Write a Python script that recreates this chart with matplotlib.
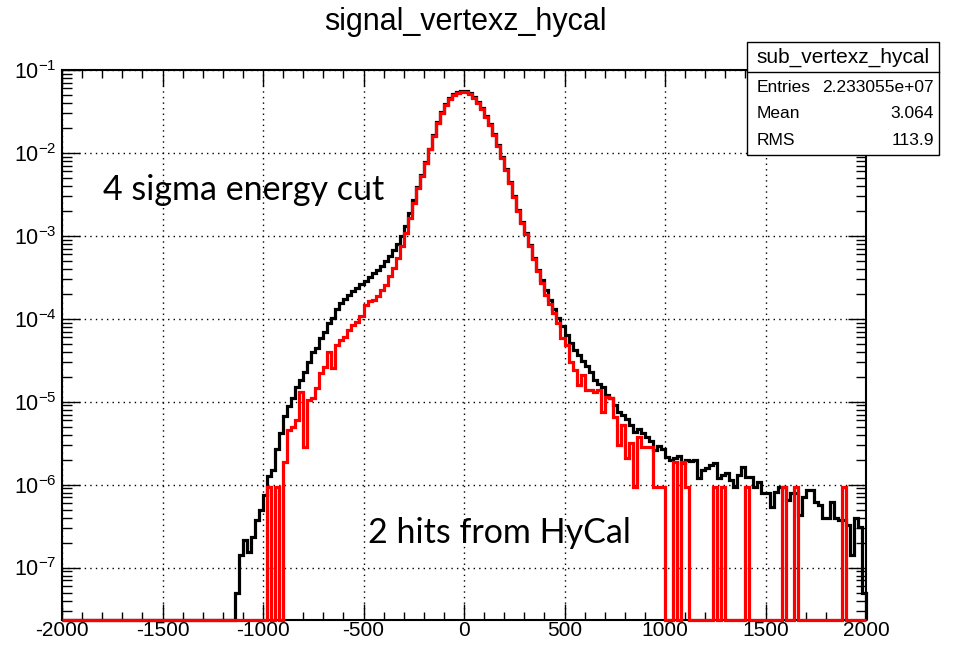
import matplotlib
matplotlib.use("Agg")
import matplotlib.pyplot as plt
import numpy as np
from matplotlib.patches import Rectangle
from matplotlib.lines import Line2D
from matplotlib.ticker import LogLocator, MultipleLocator, NullFormatter

plt.rcParams['font.family'] = 'Liberation Sans'
plt.rcParams['mathtext.fontset'] = 'custom'
plt.rcParams['mathtext.rm'] = 'Liberation Sans'
plt.rcParams['mathtext.it'] = 'Liberation Sans:italic'
plt.rcParams['axes.unicode_minus'] = False

# 200 bins of 20 from -2000 to 2000
bin_edges = np.arange(-2000, 2001, 20)

# all hits, 4 sigma energy cut (black)
black_counts = [
    0, 0, 0, 0, 0, 0, 0, 0, 0, 0,
    0, 0, 0, 0, 0, 0, 0, 0, 0, 0,
    0, 0, 0, 0, 0, 0, 0, 0, 0, 0,
    0, 0, 0, 0, 0, 0, 0, 0, 0, 0,
    0, 0, 0, 4.9e-8, 1.42e-7, 2.14e-7, 1.54e-7, 2.33e-7, 3.73e-7, 4.93e-7,
    7.47e-7, 1.26e-6, 1.50e-6, 2.68e-6, 4.17e-6, 6.68e-6, 8.83e-6, 1.10e-5, 1.50e-5, 1.82e-5,
    2.27e-5, 2.99e-5, 3.94e-5, 4.41e-5, 5.82e-5, 6.87e-5, 8.83e-5, 1.01e-4, 1.30e-4, 1.54e-4,
    1.72e-4, 1.92e-4, 2.14e-4, 2.33e-4, 2.61e-4, 2.83e-4, 3.16e-4, 3.53e-4, 3.84e-4, 4.29e-4,
    4.93e-4, 5.66e-4, 6.68e-4, 7.90e-4, 9.86e-4, 1.30e-3, 1.87e-3, 2.68e-3, 3.84e-3, 5.36e-3,
    7.69e-3, 1.13e-2, 1.63e-2, 2.33e-2, 3.08e-2, 3.84e-2, 4.54e-2, 5.07e-2, 5.36e-2, 5.51e-2,
    5.51e-2, 5.21e-2, 4.67e-2, 4.06e-2, 3.44e-2, 2.75e-2, 2.21e-2, 1.67e-2, 1.23e-2, 8.83e-3,
    6.33e-3, 4.41e-3, 2.99e-3, 2.03e-3, 1.46e-3, 1.07e-3, 7.69e-4, 5.36e-4, 3.84e-4, 2.91e-4,
    2.20e-4, 1.67e-4, 1.30e-4, 1.01e-4, 8.13e-5, 6.33e-5, 5.07e-5, 4.17e-5, 3.63e-5, 3.08e-5,
    2.68e-5, 2.27e-5, 1.82e-5, 1.63e-5, 1.50e-5, 1.20e-5, 1.10e-5, 9.08e-6, 7.47e-6, 6.87e-6,
    6.15e-6, 5.21e-6, 4.29e-6, 4.67e-6, 4.17e-6, 3.73e-6, 3.34e-6, 2.61e-6, 2.91e-6, 2.68e-6,
    2.14e-6, 1.97e-6, 2.07e-6, 2.20e-6, 1.82e-6, 1.97e-6, 1.92e-6, 1.97e-6, 1.20e-6, 1.50e-6,
    1.58e-6, 1.72e-6, 1.82e-6, 1.20e-6, 1.30e-6, 1.37e-6, 1.13e-6, 9.33e-7, 1.30e-6, 1.63e-6,
    1.23e-6, 1.23e-6, 9.33e-7, 1.07e-6, 7.90e-7, 7.90e-7, 5.36e-7, 8.10e-7, 9.33e-7, 9.33e-7,
    6.50e-7, 7.90e-7, 7.90e-7, 4.29e-7, 7.07e-7, 8.59e-7, 8.59e-7, 6.15e-7, 5.66e-7, 3.94e-7,
    3.94e-7, 6.15e-7, 3.94e-7, 3.73e-7, 3.73e-7, 3.25e-7, 1.42e-7, 4.00e-7, 3.10e-7, 4.9e-8,
]

# 2 hits from HyCal (red)
red_counts = [
    0, 0, 0, 0, 0, 0, 0, 0, 0, 0,
    0, 0, 0, 0, 0, 0, 0, 0, 0, 0,
    0, 0, 0, 0, 0, 0, 0, 0, 0, 0,
    0, 0, 0, 0, 0, 0, 0, 0, 0, 0,
    0, 0, 0, 0, 0, 0, 0, 0, 0, 0,
    0, 9.3e-7, 0, 9.3e-7, 0, 1.87e-6, 4.54e-6, 4.93e-6, 5.98e-6, 1.30e-5,
    2.83e-6, 1.04e-5, 1.10e-5, 1.46e-5, 2.20e-5, 2.61e-5, 3.94e-5, 2.53e-5, 4.80e-5, 5.51e-5,
    5.98e-5, 7.26e-5, 8.35e-5, 9.08e-5, 1.07e-4, 1.46e-4, 1.63e-4, 1.67e-4, 1.87e-4, 2.20e-4,
    2.53e-4, 3.25e-4, 4.06e-4, 5.36e-4, 7.47e-4, 1.07e-3, 1.63e-3, 2.47e-3, 3.74e-3, 5.20e-3,
    7.50e-3, 1.10e-2, 1.59e-2, 2.27e-2, 3.00e-2, 3.74e-2, 4.42e-2, 4.94e-2, 5.22e-2, 5.38e-2,
    5.38e-2, 5.08e-2, 4.55e-2, 3.95e-2, 3.35e-2, 2.68e-2, 2.15e-2, 1.63e-2, 1.20e-2, 8.60e-3,
    6.16e-3, 4.29e-3, 2.91e-3, 1.98e-3, 1.42e-3, 1.04e-3, 7.48e-4, 5.22e-4, 3.74e-4, 2.68e-4,
    1.92e-4, 1.50e-4, 1.16e-4, 8.83e-5, 5.82e-5, 4.80e-5, 2.99e-5, 2.40e-5, 1.58e-5, 2.08e-5,
    1.38e-5, 1.38e-5, 1.30e-5, 1.38e-5, 7.47e-6, 1.13e-5, 1.10e-5, 6.50e-6, 2.99e-6, 5.21e-6,
    2.08e-6, 3.16e-6, 9.3e-7, 3.73e-6, 2.83e-6, 2.83e-6, 2.83e-6, 9.3e-7, 9.3e-7, 9.3e-7,
    0, 0, 1.87e-6, 0, 1.87e-6, 9.3e-7, 0, 0, 0, 0,
    0, 0, 9.3e-7, 0, 9.3e-7, 0, 0, 0, 0, 0,
    9.3e-7, 0, 0, 0, 0, 0, 0, 0, 0, 9.3e-7,
    0, 0, 9.3e-7, 0, 0, 0, 0, 0, 0, 0,
    0, 0, 0, 0, 9.3e-7, 0, 0, 0, 0, 0,
]

stat_names = ["Entries", "Mean", "RMS"]
stat_values = ["2.233055e+07", "3.064", "113.9"]

W, H = 958, 647
fig = plt.figure(figsize=(W / 100, H / 100), dpi=100)
ax = fig.add_axes([62 / W, 27 / H, 804 / W, 550 / H])
ax.set_yscale('log')
ymin = 2.33e-8
ax.set_xlim(-2000, 2000)
ax.set_ylim(ymin, 0.1)

# empty bins sit on the bottom of the frame, like ROOT draws them
for vals, col, z in [(black_counts, 'black', 3), (red_counts, 'red', 4)]:
    v = np.array(vals, dtype=float)
    v = np.where(v > 0, v, ymin)
    ax.stairs(v, bin_edges, baseline=ymin, color=col, lw=2.3, zorder=z, clip_on=False)

ax.xaxis.set_major_locator(MultipleLocator(500))
ax.xaxis.set_minor_locator(MultipleLocator(100))
ax.yaxis.set_major_locator(LogLocator(base=10, numticks=20))
ax.yaxis.set_minor_locator(LogLocator(base=10, subs=np.arange(2, 10), numticks=20))
ax.yaxis.set_minor_formatter(NullFormatter())
ax.tick_params(which='both', direction='in', top=True, right=True, colors='black')
ax.tick_params(axis='x', which='major', length=11.5, width=1, pad=0.5, labelsize=15)
ax.tick_params(axis='x', which='minor', length=6, width=1)
ax.tick_params(axis='y', which='major', length=13, width=1, pad=4, labelsize=15.5)
ax.tick_params(axis='y', which='minor', length=7, width=1)
for sp in ax.spines.values():
    sp.set_linewidth(1.5)

ax.grid(True, which='major', color='black', linestyle=(0, (1, 3)), linewidth=1)
ax.set_axisbelow(True)

fig.text(465 / W, 1 - 22 / H, 'signal_vertexz_hycal', ha='center', va='center', fontsize=22)

# stats box
bx0, bx1 = 747 / W, 939 / W
by0, by1 = 1 - 155 / H, 1 - 42 / H
fig.patches.append(Rectangle((bx0, by0), bx1 - bx0, by1 - by0, transform=fig.transFigure,
                             facecolor='white', edgecolor='black', lw=1, zorder=5))
fig.lines.append(Line2D([bx0, bx1], [1 - 72 / H, 1 - 72 / H], transform=fig.transFigure,
                        color='black', lw=1, zorder=6))
fig.text((bx0 + bx1) / 2, 1 - 57 / H, 'sub_vertexz_hycal', ha='center', va='center',
         fontsize=15, zorder=7)
for k, (name, val) in enumerate(zip(stat_names, stat_values)):
    yy = 1 - (87 + 27 * k) / H
    fig.text(757 / W, yy, name, ha='left', va='center', fontsize=12.5, zorder=7)
    fig.text(934 / W, yy, val, ha='right', va='center', fontsize=12.5, zorder=7)

fig.text(103 / W, 1 - 190 / H, '4 sigma energy cut', family='Lato', fontsize=24.5,
         ha='left', va='center')
fig.text(368 / W, 1 - 533 / H, '2 hits from HyCal', family='Lato', fontsize=24.5,
         ha='left', va='center')

fig.savefig('out.png', dpi=100)
